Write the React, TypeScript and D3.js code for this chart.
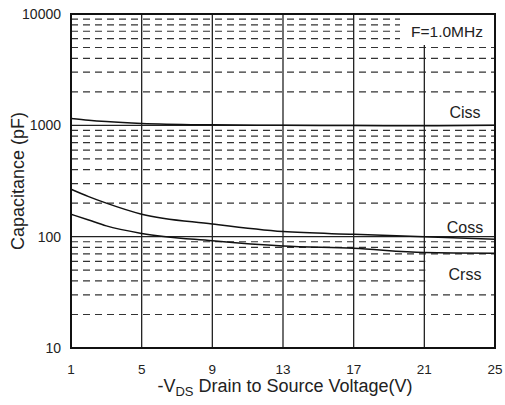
import React from 'react'
import * as d3 from 'd3'

// -VDS (V)
const volts = [1, 2, 3, 5, 9, 13, 17, 21, 25]
// capacitance (pF)
const ciss = [1150, 1110, 1080, 1040, 1010, 1000, 995, 990, 1000]
const coss = [267, 229, 200, 159, 130, 111, 105, 100, 95]
const crss = [159, 141, 125, 107, 92, 82.5, 78.6, 72, 71]

const xTicks = [1, 5, 9, 13, 17, 21, 25]
const yTicks = [10, 100, 1000, 10000]

const seriesLabels = [
  { name: 'Ciss', v: 23.3, c: 1165 },
  { name: 'Coss', v: 23.3, c: 108 },
  { name: 'Crss', v: 23.3, c: 41 },
]

const W = 505
const H = 405
const margin = { top: 14, right: 10, bottom: 57, left: 71 }
const font = 'Arial, "Liberation Sans", sans-serif'

export default function App() {
  const x = d3.scaleLinear().domain([1, 25]).range([margin.left, W - margin.right])
  const y = d3.scaleLog().domain([10, 10000]).range([H - margin.bottom, margin.top])

  const [x0, x1] = x.range()
  const [y0, y1] = y.range()

  // minor grid values 2..9 per decade
  const minor: number[] = []
  for (const d of [10, 100, 1000]) for (let k = 2; k <= 9; k++) minor.push(d * k)

  const line = d3.line<number>()
    .x((_, i) => x(volts[i]))
    .y(d => y(d))
    .curve(d3.curveMonotoneX)

  return (
    <div style={{ position: 'absolute', left: 0, top: 0 }}>
      <svg width={W} height={H} style={{ display: 'block', background: '#fff' }}>
        {/* dashed minor lines */}
        {minor.map(v => (
          <line key={'m' + v} x1={x0} x2={x1} y1={y(v)} y2={y(v)}
            stroke="#333" strokeWidth={1.2} strokeDasharray="7,5" />
        ))}
        {/* decade lines */}
        {[100, 1000].map(v => (
          <line key={'d' + v} x1={x0} x2={x1} y1={y(v)} y2={y(v)} stroke="#222" strokeWidth={1.3} />
        ))}
        {/* vertical grid */}
        {xTicks.slice(1, -1).map(v => (
          <line key={'v' + v} x1={x(v)} x2={x(v)} y1={y1} y2={y0} stroke="#222" strokeWidth={1.3} />
        ))}

        {/* label backgrounds */}
        <rect x={400} y={y1 + 1} width={x1 - 401} height={30} fill="#fff" />
        <rect x={x(21) + 1} y={256} width={x1 - x(21) - 2} height={30} fill="#fff" />

        {/* curves */}
        {[ciss, coss, crss].map((s, i) => (
          <path key={i} d={line(s) || ''} fill="none" stroke="#111" strokeWidth={1.5} />
        ))}

        {/* frame */}
        <rect x={x0} y={y1} width={x1 - x0} height={y0 - y1} fill="none" stroke="#111" strokeWidth={2} />

        <text x={447} y={37} fontFamily={font} fontSize={15.5} fill="#222" textAnchor="middle">F=1.0MHz</text>
        {seriesLabels.map(l => (
          <text key={l.name} x={x(l.v)} y={y(l.c)} fontFamily={font} fontSize={16} fill="#222" textAnchor="middle">
            {l.name}
          </text>
        ))}

        {/* y ticks */}
        {yTicks.map(v => (
          <text key={'yt' + v} x={x0 - 10} y={y(v) + 5} fontFamily={font} fontSize={14} fill="#222" textAnchor="end">
            {v}
          </text>
        ))}
        {/* x ticks */}
        {xTicks.map(v => (
          <text key={'xt' + v} x={x(v)} y={y0 + 26} fontFamily={font} fontSize={13.5} fill="#222" textAnchor="middle">
            {v}
          </text>
        ))}

        <text x={(x0 + x1) / 2 + 2} y={392} fontFamily={font} fontSize={18} fill="#222" textAnchor="middle">
          -V<tspan fontSize={13} dy={4}>DS</tspan><tspan dy={-4}> Drain to Source Voltage(V)</tspan>
        </text>
        <text transform={`translate(24,${(y0 + y1) / 2}) rotate(-90)`} fontFamily={font} fontSize={18} fill="#222" textAnchor="middle">
          Capacitance (pF)
        </text>
      </svg>
    </div>
  )
}
